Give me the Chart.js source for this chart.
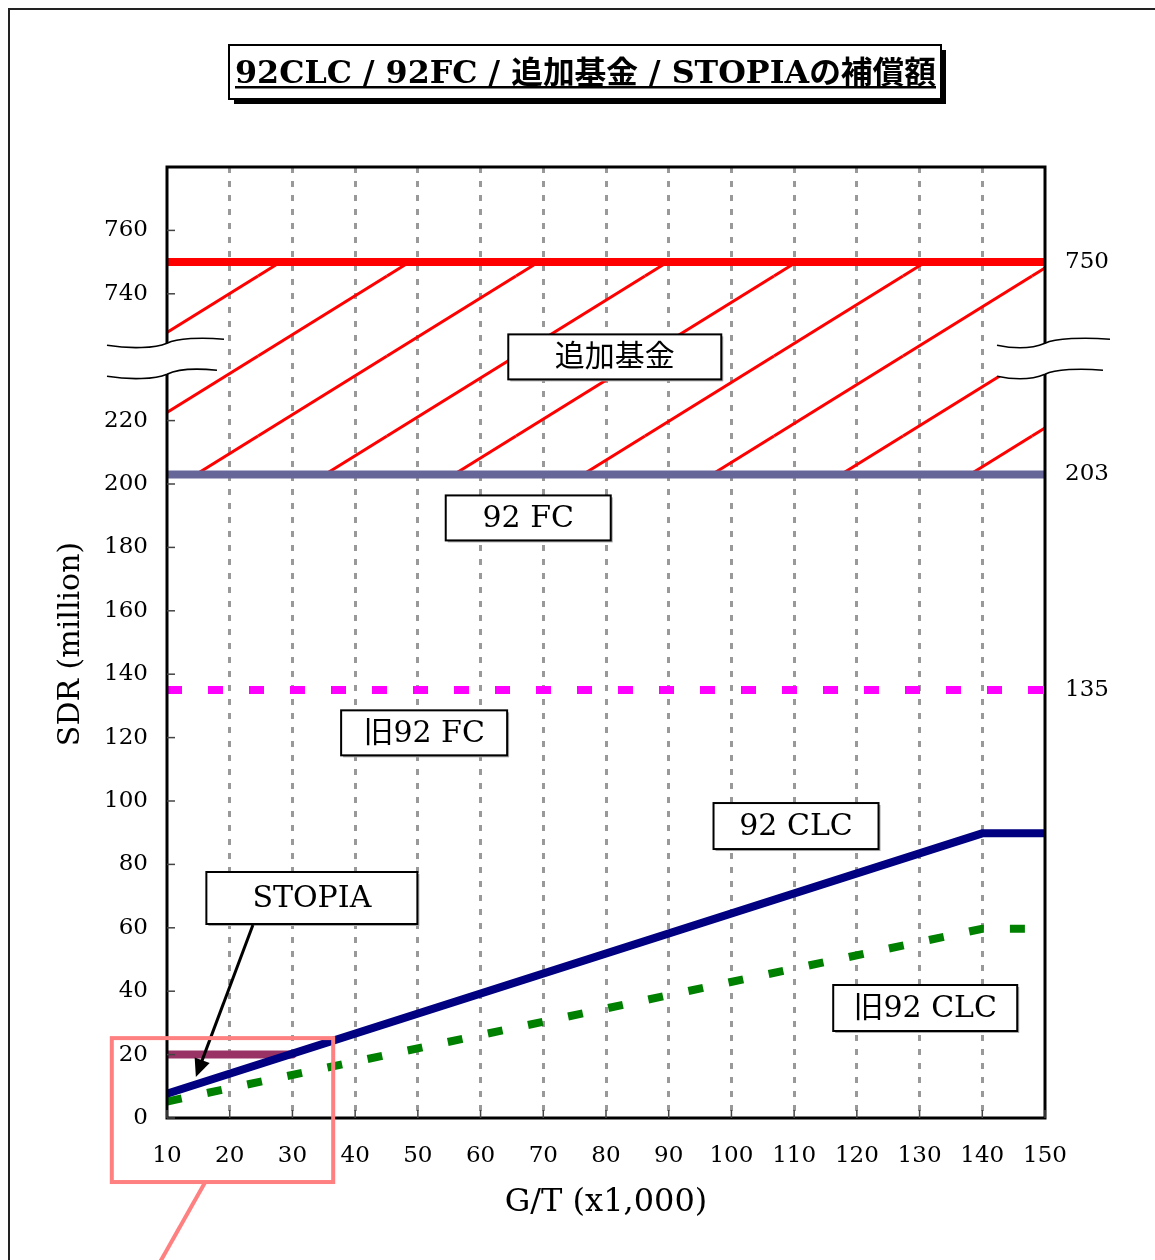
<!DOCTYPE html>
<html>
<head>
<meta charset="utf-8">
<script src="https://cdn.jsdelivr.net/npm/chart.js@4.4.1/dist/chart.umd.min.js"></script>
<style>
  html, body { margin: 0; padding: 0; background: #fff; }
  canvas { display: block; }
</style>
</head>
<body>
<canvas id="chart" width="1155" height="1260"></canvas>
<script>
// x: G/T (x1,000), y: SDR (million)
const gtTicks = [10, 20, 30, 40, 50, 60, 70, 80, 90, 100, 110, 120, 130, 140, 150];
const leftTickValues = [0, 20, 40, 60, 80, 100, 120, 140, 160, 180, 200, 220, 740, 760];
const rightTickValues = [135, 203, 750];

const clc92X = [10, 140, 150];
const clc92Y = [7.7, 89.8, 89.8];
const oldClc92X = [10, 140, 150];
const oldClc92Y = [5.2, 59.7, 59.7];
const stopiaX = [10, 30];
const stopiaY = [20, 20];
const flatX = [10, 150];
const fc92Y = [203, 203];
const oldFc92Y = [135, 135];
const supFundY = [750, 750];

// the y axis is broken: everything above breakFrom is pulled down by breakShift
const breakFrom = 240;
const breakShift = 480;
function toDisplay(v) { return v > breakFrom ? v - breakShift : v; }
function pts(xs, ys) { return xs.map((x, i) => ({ x: x, y: toDisplay(ys[i]) })); }

const serif = '"DejaVu Serif", "Noto Sans CJK JP", serif';
const canvas = document.getElementById('chart');
const ctx = canvas.getContext('2d');

function hatchPattern() {
  const w = 129, h = 80;
  const c = document.createElement('canvas');
  c.width = w; c.height = h;
  const g = c.getContext('2d');
  g.strokeStyle = '#ff0000';
  g.lineWidth = 3;
  for (let i = -1; i <= 1; i++) {
    for (let j = -1; j <= 1; j++) {
      g.beginPath();
      g.moveTo(i * w, h + j * h);
      g.lineTo(w + i * w, j * h);
      g.stroke();
    }
  }
  const p = ctx.createPattern(c, 'repeat');
  p.setTransform(new DOMMatrix().translate(0, 36));
  return p;
}

const notes = [
  { text: '追加基金', x: 81.4, y: 240.1, w: 213, h: 45 },
  { text: '92 FC', x: 67.6, y: 189.3, w: 165, h: 45 },
  { text: '旧92 FC', x: 51.0, y: 121.5, w: 166, h: 45 },
  { text: '92 CLC', x: 110.3, y: 92.1, w: 165, h: 46 },
  { text: '旧92 CLC', x: 130.9, y: 34.7, w: 184, h: 46 },
  { text: 'STOPIA', x: 33.1, y: 69.4, w: 211, h: 52 }
];

function drawBreak(c, ax, yc, leftExt, rightExt) {
  const up = yc - 17, lo = yc + 14;
  function curve(y0, right, move) {
    if (move) c.moveTo(ax - leftExt, y0 + 5);
    c.bezierCurveTo(ax - leftExt * 0.6, y0 + 9, ax - 12, y0 + 8, ax, y0 + 3);
    c.bezierCurveTo(ax + 10, y0 - 2, ax + right * 0.6, y0 - 3, ax + right, y0 - 1);
  }
  c.save();
  // white band between the two waves
  c.beginPath();
  curve(up, rightExt, true);
  c.lineTo(ax + rightExt - 7, lo - 1);
  c.bezierCurveTo(ax + (rightExt - 7) * 0.6, lo - 3, ax + 10, lo - 2, ax, lo + 3);
  c.bezierCurveTo(ax - 12, lo + 8, ax - leftExt * 0.6, lo + 9, ax - leftExt, lo + 5);
  c.closePath();
  c.fillStyle = '#fff';
  c.fill();
  c.strokeStyle = '#000';
  c.lineWidth = 1.6;
  c.beginPath();
  curve(up, rightExt, true);
  c.stroke();
  c.beginPath();
  curve(lo, rightExt - 7, true);
  c.stroke();
  c.restore();
}

const decorations = {
  id: 'decorations',
  beforeDraw(chart) {
    const c = chart.ctx;
    c.save();
    c.fillStyle = '#fff';
    c.fillRect(0, 0, chart.width, chart.height);
    c.restore();
  },
  afterDraw(chart) {
    const c = chart.ctx;
    const a = chart.chartArea;
    const x = chart.scales.x, y = chart.scales.y;
    const P = (xv, yv) => [x.getPixelForValue(xv), y.getPixelForValue(yv)];
    c.save();

    // outer page frame
    c.strokeStyle = '#222';
    c.lineWidth = 2;
    c.strokeRect(9, 9, 1300, 1400);

    // plot frame
    c.strokeStyle = '#000';
    c.lineWidth = 3;
    c.strokeRect(a.left, a.top, a.right - a.left, a.bottom - a.top);

    // inward tick marks
    c.strokeStyle = '#444';
    c.lineWidth = 1.5;
    leftTickValues.forEach(v => {
      const py = y.getPixelForValue(toDisplay(v));
      c.beginPath(); c.moveTo(a.left, py); c.lineTo(a.left + 8, py); c.stroke();
    });
    gtTicks.forEach(v => {
      const px = x.getPixelForValue(v);
      c.beginPath(); c.moveTo(px, a.bottom); c.lineTo(px, a.bottom - 8); c.stroke();
    });

    // axis break marks
    const yb = y.getPixelForValue(breakFrom);
    drawBreak(c, a.left, yb, 60, 57);
    drawBreak(c, a.right, yb, 48, 65);

    // label boxes
    c.textAlign = 'center';
    c.textBaseline = 'middle';
    notes.forEach(n => {
      const [cx, cy] = P(n.x, n.y);
      const l = cx - n.w / 2, t = cy - n.h / 2;
      c.fillStyle = '#aaa';
      c.fillRect(l + 2, t + 2, n.w, n.h);
      c.fillStyle = '#fff';
      c.fillRect(l, t, n.w, n.h);
      c.strokeStyle = '#000';
      c.lineWidth = 2;
      c.strokeRect(l, t, n.w, n.h);
      c.fillStyle = '#000';
      c.font = '30px ' + serif;
      c.fillText(n.text, cx, cy + 1);
    });

    // STOPIA arrow
    const [x0, y0] = P(23.7, 60.9);
    const [x1, y1] = P(14.6, 12.9);
    const ang = Math.atan2(y1 - y0, x1 - x0);
    c.strokeStyle = '#000';
    c.fillStyle = '#000';
    c.lineWidth = 3;
    c.beginPath();
    c.moveTo(x0, y0);
    c.lineTo(x1 - 12 * Math.cos(ang), y1 - 12 * Math.sin(ang));
    c.stroke();
    c.beginPath();
    c.moveTo(x1, y1);
    c.lineTo(x1 - 18 * Math.cos(ang) + 8 * Math.sin(ang), y1 - 18 * Math.sin(ang) - 8 * Math.cos(ang));
    c.lineTo(x1 - 18 * Math.cos(ang) - 8 * Math.sin(ang), y1 - 18 * Math.sin(ang) + 8 * Math.cos(ang));
    c.closePath();
    c.fill();

    // pink zoom box and leader
    const [rl, rt] = P(1.2, 25.2);
    const [rr, rb] = P(36.5, -20.2);
    c.strokeStyle = '#ff8080';
    c.lineWidth = 4;
    c.strokeRect(rl, rt, rr - rl, rb - rt);
    const [lx0, ly0] = P(16.1, -20.2);
    const [lx1, ly1] = P(8.9, -45.4);
    c.beginPath(); c.moveTo(lx0, ly0); c.lineTo(lx1, ly1); c.stroke();

    // axis titles
    c.fillStyle = '#000';
    c.textAlign = 'center';
    c.textBaseline = 'middle';
    c.font = '32px ' + serif;
    c.fillText('G/T (x1,000)', (a.left + a.right) / 2, 1203);
    c.font = '30px ' + serif;
    c.save();
    c.translate(71, 644);
    c.rotate(-Math.PI / 2);
    c.fillText('SDR (million)', 0, 0);
    c.restore();

    // title with shadowed box
    c.fillStyle = '#000';
    c.fillRect(234, 50, 712, 54);
    c.fillStyle = '#fff';
    c.fillRect(229, 45, 712, 54);
    c.strokeStyle = '#000';
    c.lineWidth = 2;
    c.strokeRect(229, 45, 712, 54);
    const title = '92CLC / 92FC / 追加基金 / STOPIAの補償額';
    c.font = 'bold 31px ' + serif;
    c.textBaseline = 'alphabetic';
    const tw = c.measureText(title).width;
    const sx = 701 / tw;
    c.fillStyle = '#000';
    c.save();
    c.translate(585.5, 83);
    c.scale(sx, 1);
    c.fillText(title, 0, 0);
    c.restore();
    c.fillRect(585.5 - 350.5, 86, 701, 2.5);

    c.restore();
  }
};

const solid = { pointRadius: 0, borderWidth: 8, borderCapStyle: 'round', fill: false, tension: 0 };
const tickFont = { family: serif, size: 23 };

new Chart(ctx, {
  type: 'line',
  data: {
    datasets: [
      Object.assign({ label: '92 CLC', data: pts(clc92X, clc92Y), borderColor: '#000080' }, solid),
      Object.assign({ label: 'STOPIA', data: pts(stopiaX, stopiaY), borderColor: '#993366' }, solid),
      { label: '旧92 CLC', data: pts(oldClc92X, oldClc92Y), borderColor: '#008000', borderWidth: 8,
        borderDash: [15, 26], borderCapStyle: 'butt', pointRadius: 0, fill: false },
      { label: '旧92 FC', data: pts(flatX, oldFc92Y), borderColor: '#ff00ff', borderWidth: 8,
        borderDash: [15, 26], borderCapStyle: 'butt', pointRadius: 0, fill: false },
      Object.assign({ label: '92 FC', data: pts(flatX, fc92Y), borderColor: '#666699' }, solid),
      Object.assign({}, solid, { label: '追加基金', data: pts(flatX, supFundY), borderColor: '#ff0000',
        fill: 4, backgroundColor: hatchPattern() })
    ]
  },
  options: {
    responsive: false,
    devicePixelRatio: 1,
    animation: false,
    layout: { padding: { top: 167, left: 0, right: 0, bottom: 0 } },
    plugins: {
      legend: { display: false },
      title: { display: false },
      tooltip: { enabled: false }
    },
    scales: {
      x: {
        type: 'linear',
        min: 10,
        max: 150,
        afterBuildTicks: s => { s.ticks = gtTicks.map(v => ({ value: v })); },
        afterFit: s => { s.height = 142; },
        grid: {
          color: ctx2 => (ctx2.tick && (ctx2.tick.value === 10 || ctx2.tick.value === 150)) ? 'rgba(0,0,0,0)' : '#999',
          lineWidth: 3,
          drawTicks: false
        },
        border: { display: false, dash: [6, 8] },
        ticks: {
          autoSkip: false,
          maxRotation: 0,
          padding: 24,
          color: '#000',
          font: tickFont
        }
      },
      y: {
        type: 'linear',
        position: 'left',
        min: 0,
        max: 300,
        afterBuildTicks: s => { s.ticks = leftTickValues.map(v => ({ value: toDisplay(v) })); },
        afterFit: s => { s.width = 167; },
        grid: { display: false, drawTicks: false },
        border: { display: false },
        ticks: {
          autoSkip: false,
          padding: 19,
          color: '#000',
          font: tickFont,
          callback: (v, i) => String(leftTickValues[i])
        }
      },
      y2: {
        type: 'linear',
        position: 'right',
        min: 0,
        max: 300,
        afterBuildTicks: s => { s.ticks = rightTickValues.map(v => ({ value: toDisplay(v) })); },
        afterFit: s => { s.width = 110; },
        grid: { display: false, drawTicks: false },
        border: { display: false },
        ticks: {
          autoSkip: false,
          padding: 20,
          color: '#000',
          font: tickFont,
          callback: (v, i) => String(rightTickValues[i])
        }
      }
    }
  },
  plugins: [decorations]
});
</script>
</body>
</html>
